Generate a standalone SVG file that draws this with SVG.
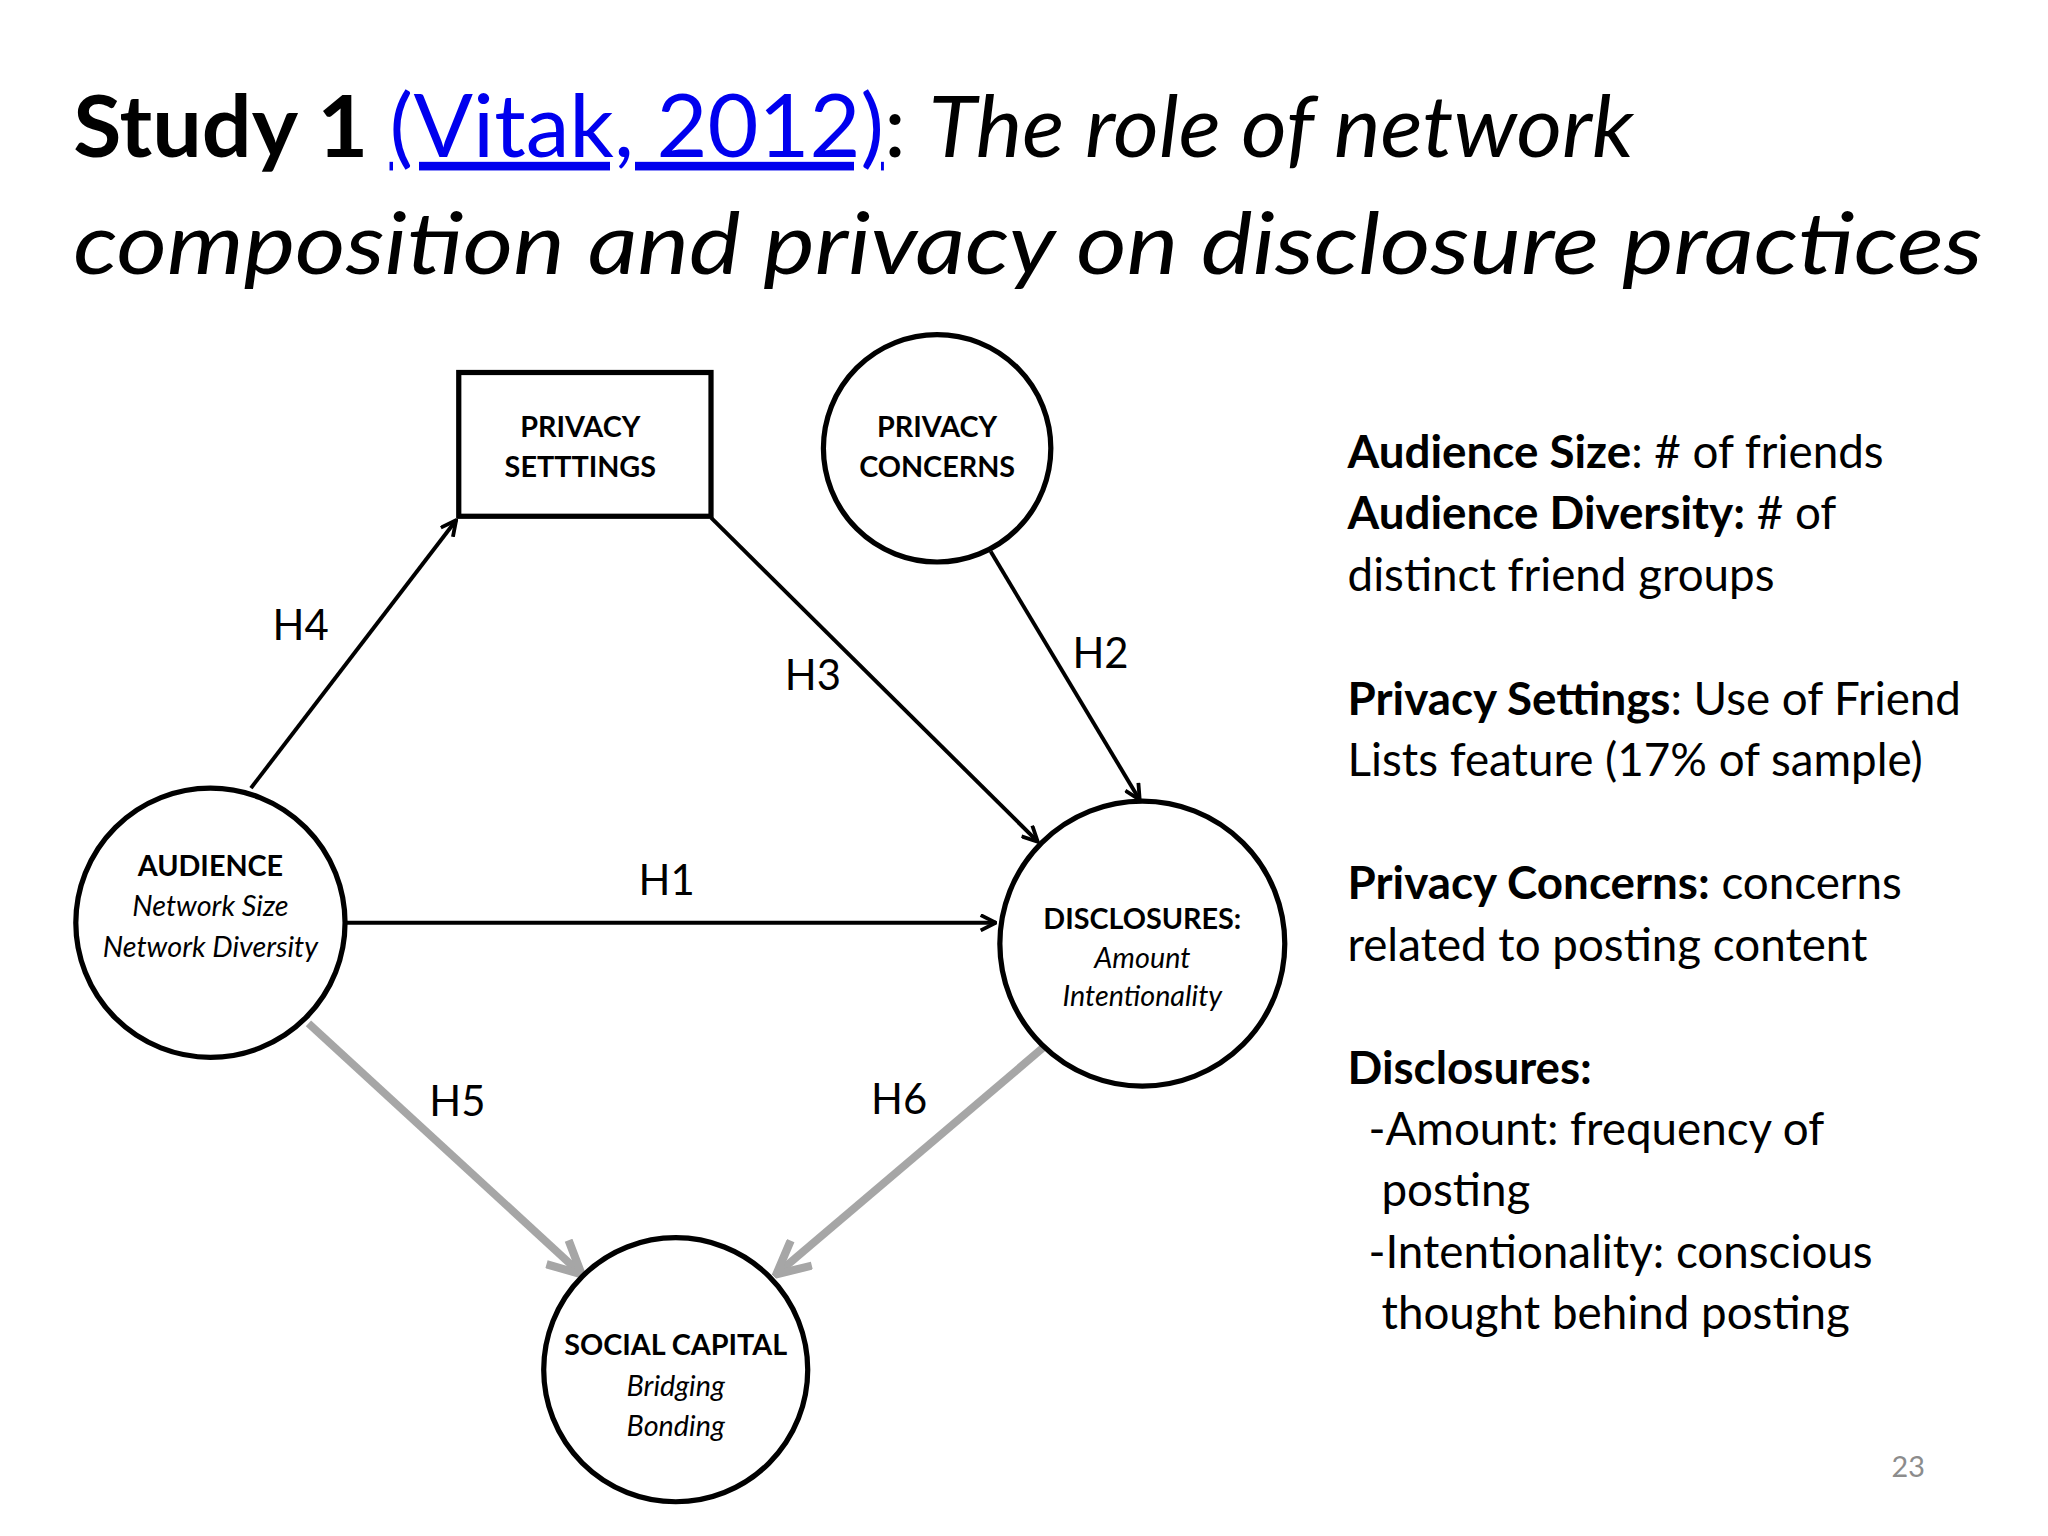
<svg xmlns="http://www.w3.org/2000/svg" width="2048" height="1536" viewBox="0 0 2048 1536">
<defs>
<style>
text{font-family:Lato,"Open Sans",sans-serif;fill:#000}
.node{fill:#fff;stroke:#000;stroke-width:4}
.nl{font-size:22px;font-weight:bold;text-anchor:middle}
.ni{font-size:22px;font-style:italic;text-anchor:middle}
.h{font-size:32px;text-anchor:middle}
.r{font-size:35px}
.blk{stroke:#000;stroke-width:3;fill:none}
.gry{stroke:#a6a6a6;stroke-width:6;fill:none}
</style>
<marker id="ab" viewBox="0 0 12 12" refX="11" refY="6" markerWidth="14" markerHeight="14" orient="auto" markerUnits="userSpaceOnUse"><path d="M1,1 L11,6 L1,11" fill="none" stroke="#000" stroke-width="2.5"/></marker>
<marker id="ag" viewBox="0 0 12 12" refX="11" refY="6" markerWidth="5" markerHeight="5" orient="auto"><path d="M1,1 L11,6 L1,11" fill="none" stroke="#a6a6a6" stroke-width="2.5"/></marker>
</defs>
<rect width="2048" height="1536" fill="#fff"/>
<g transform="scale(1.307)">
<g id="title">
<text x="56" y="120" font-size="66" textLength="1194" lengthAdjust="spacingAndGlyphs"><tspan font-weight="bold">Study 1 </tspan><tspan text-decoration="underline" style="fill:#0000ee">(Vitak, 2012)</tspan><tspan>: </tspan><tspan font-style="italic">The role of network</tspan></text>
<text x="56" y="210" font-size="66" font-style="italic" textLength="1461" lengthAdjust="spacingAndGlyphs">composition and privacy on disclosure practices</text>
</g>
<g id="connectors">
<line class="blk" x1="192" y1="603" x2="349" y2="398" marker-end="url(#ab)"/>
<line class="blk" x1="544" y1="396" x2="794" y2="644" marker-end="url(#ab)"/>
<line class="blk" x1="758" y1="422" x2="872" y2="612" marker-end="url(#ab)"/>
<line class="blk" x1="265" y1="706" x2="762" y2="706" stroke-width="4" marker-end="url(#ab)"/>
<line class="gry" x1="236" y1="783" x2="445" y2="975" marker-end="url(#ag)"/>
<line class="gry" x1="800" y1="800" x2="594" y2="975" marker-end="url(#ag)"/>
<text class="h" x="230" y="490">H4</text>
<text class="h" x="622" y="528">H3</text>
<text class="h" x="842" y="511">H2</text>
<text class="h" x="510" y="685">H1</text>
<text class="h" x="350" y="854">H5</text>
<text class="h" x="688" y="852">H6</text>
</g>
<g id="privacy-settings">
<rect class="node" x="351" y="285" width="193" height="110" stroke-width="2"/>
<text class="nl" x="444" y="334">PRIVACY</text>
<text class="nl" x="444" y="365">SETTTINGS</text>
</g>
<g id="privacy-concerns">
<circle class="node" cx="717" cy="343" r="87"/>
<text class="nl" x="717" y="334">PRIVACY</text>
<text class="nl" x="717" y="365">CONCERNS</text>
</g>
<g id="audience">
<circle class="node" cx="161" cy="706" r="103"/>
<text class="nl" x="161" y="670">AUDIENCE</text>
<text class="ni" x="161" y="701">Network Size</text>
<text class="ni" x="161" y="732">Network Diversity</text>
</g>
<g id="disclosures">
<circle class="node" cx="874" cy="722" r="109"/>
<text class="nl" x="874" y="711">DISCLOSURES:</text>
<text class="ni" x="874" y="741">Amount</text>
<text class="ni" x="874" y="770">Intentionality</text>
</g>
<g id="social-capital">
<circle class="node" cx="517" cy="1048" r="101"/>
<text class="nl" x="517" y="1037">SOCIAL CAPITAL</text>
<text class="ni" x="517" y="1068">Bridging</text>
<text class="ni" x="517" y="1099">Bonding</text>
</g>
<g id="legend">
<text class="r" x="1031" y="358"><tspan font-weight="bold">Audience Size</tspan>: # of friends</text>
<text class="r" x="1031" y="405"><tspan font-weight="bold">Audience Diversity:</tspan> # of</text>
<text class="r" x="1031" y="452">distinct friend groups</text>
<text class="r" x="1031" y="547"><tspan font-weight="bold">Privacy Settings</tspan>: Use of Friend</text>
<text class="r" x="1031" y="594">Lists feature (17% of sample)</text>
<text class="r" x="1031" y="688"><tspan font-weight="bold">Privacy Concerns:</tspan> concerns</text>
<text class="r" x="1031" y="735">related to posting content</text>
<text class="r" x="1031" y="829" font-weight="bold">Disclosures:</text>
<text class="r" x="1047" y="876">-Amount: frequency of</text>
<text class="r" x="1057" y="923">posting</text>
<text class="r" x="1047" y="970">-Intentionality: conscious</text>
<text class="r" x="1057" y="1017">thought behind posting</text>
<text x="1460" y="1130" font-size="22" text-anchor="middle" style="fill:#8c8c8c">23</text>
</g>
</g>
</svg>
